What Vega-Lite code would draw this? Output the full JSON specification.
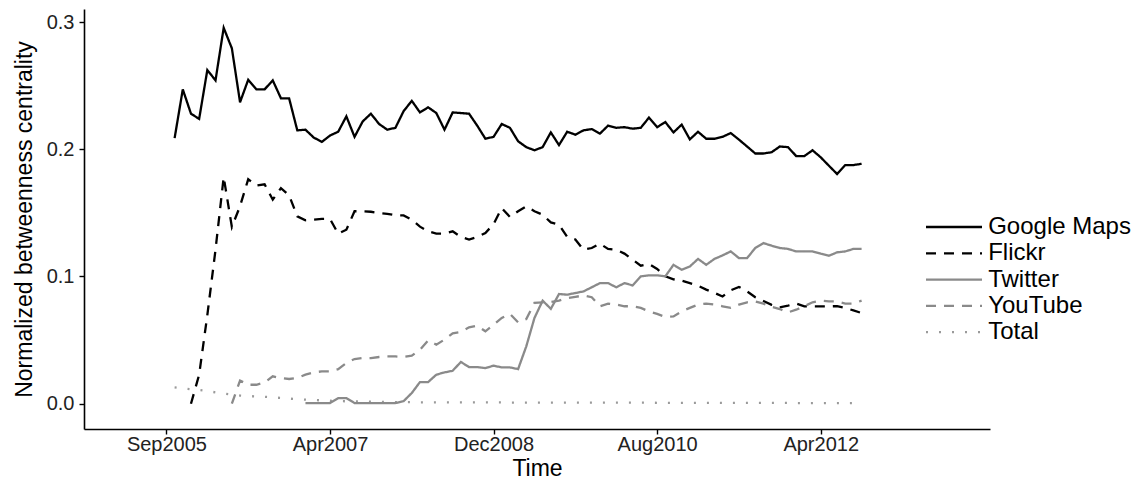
{
  "$schema": "https://vega.github.io/schema/vega-lite/v6.json",
  "width": 906,
  "height": 420,
  "autosize": {"type": "none"},
  "padding": {"left": 84, "top": 9, "right": 147, "bottom": 58},
  "background": "white",
  "data": {"values": [
    {"t":1,"Google Maps":0.2088,"Total":0.0128},
    {"t":2,"Google Maps":0.2471,"Total":0.0120},
    {"t":3,"Google Maps":0.2280,"Flickr":0.0,"Total":0.0113},
    {"t":4,"Google Maps":0.2239,"Flickr":0.0228,"Total":0.0107},
    {"t":5,"Google Maps":0.2623,"Flickr":0.0696,"Total":0.0100},
    {"t":6,"Google Maps":0.2542,"Flickr":0.1210,"Total":0.0089},
    {"t":7,"Google Maps":0.2955,"Flickr":0.1782,"Total":0.0080},
    {"t":8,"Google Maps":0.2794,"Flickr":0.1389,"YouTube":0.0,"Total":0.0072},
    {"t":9,"Google Maps":0.2370,"Flickr":0.1553,"YouTube":0.0182,"Total":0.0064},
    {"t":10,"Google Maps":0.2547,"Flickr":0.1765,"YouTube":0.0149,"Total":0.0060},
    {"t":11,"Google Maps":0.2471,"Flickr":0.1715,"YouTube":0.0149,"Total":0.0057},
    {"t":12,"Google Maps":0.2471,"Flickr":0.1725,"YouTube":0.0167,"Total":0.0054},
    {"t":13,"Google Maps":0.2542,"Flickr":0.1604,"YouTube":0.0215,"Total":0.0050},
    {"t":14,"Google Maps":0.2401,"Flickr":0.1695,"YouTube":0.0202,"Total":0.0045},
    {"t":15,"Google Maps":0.2401,"Flickr":0.1638,"YouTube":0.0194,"Total":0.0040},
    {"t":16,"Google Maps":0.2149,"Flickr":0.1473,"YouTube":0.0202,"Total":0.0035},
    {"t":17,"Google Maps":0.2154,"Flickr":0.1442,"Twitter":0.0005,"YouTube":0.0228,"Total":0.0032},
    {"t":18,"Google Maps":0.2093,"Flickr":0.1447,"Twitter":0.0005,"YouTube":0.0246,"Total":0.0029},
    {"t":19,"Google Maps":0.2058,"Flickr":0.1453,"Twitter":0.0005,"YouTube":0.0254,"Total":0.0026},
    {"t":20,"Google Maps":0.2108,"Flickr":0.1453,"Twitter":0.0005,"YouTube":0.0254,"Total":0.0023},
    {"t":21,"Google Maps":0.2138,"Flickr":0.1337,"Twitter":0.0044,"YouTube":0.0272,"Total":0.0021},
    {"t":22,"Google Maps":0.2259,"Flickr":0.1368,"Twitter":0.0044,"YouTube":0.0320,"Total":0.0019},
    {"t":23,"Google Maps":0.2098,"Flickr":0.1513,"Twitter":0.0005,"YouTube":0.0351,"Total":0.0018},
    {"t":24,"Google Maps":0.2219,"Flickr":0.1513,"Twitter":0.0005,"YouTube":0.0359,"Total":0.0017},
    {"t":25,"Google Maps":0.2280,"Flickr":0.1509,"Twitter":0.0005,"YouTube":0.0359,"Total":0.0016},
    {"t":26,"Google Maps":0.2199,"Flickr":0.1499,"Twitter":0.0005,"YouTube":0.0367,"Total":0.0015},
    {"t":27,"Google Maps":0.2154,"Flickr":0.1493,"Twitter":0.0005,"YouTube":0.0372,"Total":0.0014},
    {"t":28,"Google Maps":0.2169,"Flickr":0.1481,"Twitter":0.0005,"YouTube":0.0372,"Total":0.0013},
    {"t":29,"Google Maps":0.2300,"Flickr":0.1480,"Twitter":0.0020,"YouTube":0.0367,"Total":0.0012},
    {"t":30,"Google Maps":0.2381,"Flickr":0.1447,"Twitter":0.0084,"YouTube":0.0377,"Total":0.0012},
    {"t":31,"Google Maps":0.2290,"Flickr":0.1392,"Twitter":0.0170,"YouTube":0.0424,"Total":0.0011},
    {"t":32,"Google Maps":0.2330,"Flickr":0.1355,"Twitter":0.0170,"YouTube":0.0498,"Total":0.0011},
    {"t":33,"Google Maps":0.2285,"Flickr":0.1337,"Twitter":0.0228,"YouTube":0.0464,"Total":0.0011},
    {"t":34,"Google Maps":0.2154,"Flickr":0.1337,"Twitter":0.0246,"YouTube":0.0504,"Total":0.0011},
    {"t":35,"Google Maps":0.2290,"Flickr":0.1355,"Twitter":0.0259,"YouTube":0.0553,"Total":0.0010},
    {"t":36,"Google Maps":0.2285,"Flickr":0.1311,"Twitter":0.0328,"YouTube":0.0564,"Total":0.0010},
    {"t":37,"Google Maps":0.2280,"Flickr":0.1291,"Twitter":0.0288,"YouTube":0.0600,"Total":0.0010},
    {"t":38,"Google Maps":0.2186,"Flickr":0.1311,"Twitter":0.0288,"YouTube":0.0613,"Total":0.0010},
    {"t":39,"Google Maps":0.2083,"Flickr":0.1342,"Twitter":0.0280,"YouTube":0.0569,"Total":0.0010},
    {"t":40,"Google Maps":0.2098,"Flickr":0.1412,"Twitter":0.0299,"YouTube":0.0621,"Total":0.0010},
    {"t":41,"Google Maps":0.2199,"Flickr":0.1538,"Twitter":0.0285,"YouTube":0.0674,"Total":0.0010},
    {"t":42,"Google Maps":0.2169,"Flickr":0.1468,"Twitter":0.0285,"YouTube":0.0706,"Total":0.0009},
    {"t":43,"Google Maps":0.2063,"Flickr":0.1513,"Twitter":0.0272,"YouTube":0.0640,"Total":0.0009},
    {"t":44,"Google Maps":0.2017,"Flickr":0.1551,"Twitter":0.0451,"YouTube":0.0666,"Total":0.0009},
    {"t":45,"Google Maps":0.1992,"Flickr":0.1513,"Twitter":0.0674,"YouTube":0.0792,"Total":0.0009},
    {"t":46,"Google Maps":0.2017,"Flickr":0.1486,"Twitter":0.0810,"YouTube":0.0797,"Total":0.0009},
    {"t":47,"Google Maps":0.2133,"Flickr":0.1425,"Twitter":0.0746,"YouTube":0.0800,"Total":0.0009},
    {"t":48,"Google Maps":0.2033,"Flickr":0.1407,"Twitter":0.0862,"YouTube":0.0810,"Total":0.0009},
    {"t":49,"Google Maps":0.2138,"Flickr":0.1311,"Twitter":0.0857,"YouTube":0.0830,"Total":0.0009},
    {"t":50,"Google Maps":0.2115,"Flickr":0.1291,"Twitter":0.0870,"YouTube":0.0840,"Total":0.0009},
    {"t":51,"Google Maps":0.2149,"Flickr":0.1210,"Twitter":0.0883,"YouTube":0.0851,"Total":0.0008},
    {"t":52,"Google Maps":0.2159,"Flickr":0.1224,"Twitter":0.0915,"YouTube":0.0837,"Total":0.0008},
    {"t":53,"Google Maps":0.2123,"Flickr":0.1258,"Twitter":0.0948,"YouTube":0.0766,"Total":0.0008},
    {"t":54,"Google Maps":0.2186,"Flickr":0.1217,"Twitter":0.0948,"YouTube":0.0787,"Total":0.0008},
    {"t":55,"Google Maps":0.2169,"Flickr":0.1210,"Twitter":0.0915,"YouTube":0.0779,"Total":0.0008},
    {"t":56,"Google Maps":0.2174,"Flickr":0.1180,"Twitter":0.0948,"YouTube":0.0766,"Total":0.0008},
    {"t":57,"Google Maps":0.2162,"Flickr":0.1132,"Twitter":0.0930,"YouTube":0.0766,"Total":0.0008},
    {"t":58,"Google Maps":0.2169,"Flickr":0.1085,"Twitter":0.1001,"YouTube":0.0753,"Total":0.0008},
    {"t":59,"Google Maps":0.2249,"Flickr":0.1098,"Twitter":0.1009,"YouTube":0.0726,"Total":0.0008},
    {"t":60,"Google Maps":0.2174,"Flickr":0.1059,"Twitter":0.1009,"YouTube":0.0706,"Total":0.0007},
    {"t":61,"Google Maps":0.2214,"Flickr":0.1001,"Twitter":0.1001,"YouTube":0.0682,"Total":0.0007},
    {"t":62,"Google Maps":0.2133,"Flickr":0.0978,"Twitter":0.1092,"YouTube":0.0686,"Total":0.0007},
    {"t":63,"Google Maps":0.2194,"Flickr":0.0967,"Twitter":0.1053,"YouTube":0.0726,"Total":0.0007},
    {"t":64,"Google Maps":0.2078,"Flickr":0.0948,"Twitter":0.1079,"YouTube":0.0753,"Total":0.0007},
    {"t":65,"Google Maps":0.2138,"Flickr":0.0928,"Twitter":0.1138,"YouTube":0.0779,"Total":0.0007},
    {"t":66,"Google Maps":0.2083,"Flickr":0.0897,"Twitter":0.1092,"YouTube":0.0787,"Total":0.0007},
    {"t":67,"Google Maps":0.2083,"Flickr":0.0871,"Twitter":0.1138,"YouTube":0.0779,"Total":0.0007},
    {"t":68,"Google Maps":0.2098,"Flickr":0.0843,"Twitter":0.1166,"YouTube":0.0766,"Total":0.0006},
    {"t":69,"Google Maps":0.2128,"Flickr":0.0891,"Twitter":0.1197,"YouTube":0.0753,"Total":0.0006},
    {"t":70,"Google Maps":0.2076,"Flickr":0.0918,"Twitter":0.1145,"YouTube":0.0779,"Total":0.0006},
    {"t":71,"Google Maps":0.2022,"Flickr":0.0883,"Twitter":0.1145,"YouTube":0.0797,"Total":0.0006},
    {"t":72,"Google Maps":0.1967,"Flickr":0.0837,"Twitter":0.1224,"YouTube":0.0804,"Total":0.0006},
    {"t":73,"Google Maps":0.1967,"Flickr":0.0807,"Twitter":0.1263,"YouTube":0.0787,"Total":0.0006},
    {"t":74,"Google Maps":0.1977,"Flickr":0.0777,"Twitter":0.1242,"YouTube":0.0761,"Total":0.0006},
    {"t":75,"Google Maps":0.2022,"Flickr":0.0757,"Twitter":0.1224,"YouTube":0.0744,"Total":0.0006},
    {"t":76,"Google Maps":0.2017,"Flickr":0.0771,"Twitter":0.1217,"YouTube":0.0718,"Total":0.0006},
    {"t":77,"Google Maps":0.1947,"Flickr":0.0787,"Twitter":0.1197,"YouTube":0.0739,"Total":0.0005},
    {"t":78,"Google Maps":0.1947,"Flickr":0.0765,"Twitter":0.1197,"YouTube":0.0766,"Total":0.0005},
    {"t":79,"Google Maps":0.1992,"Flickr":0.0765,"Twitter":0.1197,"YouTube":0.0797,"Total":0.0005},
    {"t":80,"Google Maps":0.1937,"Flickr":0.0765,"Twitter":0.1179,"YouTube":0.0810,"Total":0.0005},
    {"t":81,"Google Maps":0.1871,"Flickr":0.0765,"Twitter":0.1163,"YouTube":0.0804,"Total":0.0005},
    {"t":82,"Google Maps":0.1806,"Flickr":0.0767,"Twitter":0.1190,"YouTube":0.0804,"Total":0.0005},
    {"t":83,"Google Maps":0.1876,"Flickr":0.0753,"Twitter":0.1197,"YouTube":0.0787,"Total":0.0005},
    {"t":84,"Google Maps":0.1876,"Flickr":0.0733,"Twitter":0.1217,"YouTube":0.0787,"Total":0.0005},
    {"t":85,"Google Maps":0.1886,"Flickr":0.0713,"Twitter":0.1217,"YouTube":0.0810,"Total":0.0005}
  ]},
  "transform": [
    {"fold": ["Google Maps", "Flickr", "Twitter", "YouTube", "Total"], "as": ["series", "value"]},
    {"filter": "isValid(datum.value)"}
  ],
  "mark": {"type": "line", "strokeWidth": 2.3, "clip": true},
  "encoding": {
    "x": {
      "field": "t", "type": "quantitative",
      "scale": {"domain": [-10.08, 100.7], "nice": false, "zero": false},
      "axis": {
        "title": "Time",
        "values": [0, 20, 40, 60, 80],
        "labelExpr": "datum.value == 0 ? 'Sep2005' : datum.value == 20 ? 'Apr2007' : datum.value == 40 ? 'Dec2008' : datum.value == 60 ? 'Aug2010' : 'Apr2012'",
        "labelFlush": false,
        "labelPadding": 0,
        "titlePadding": 3
      }
    },
    "y": {
      "field": "value", "type": "quantitative",
      "scale": {"domain": [-0.0199, 0.3103], "nice": false, "zero": false},
      "axis": {
        "title": "Normalized betweenness centrality",
        "values": [0, 0.1, 0.2, 0.3],
        "format": ".1f",
        "labelFlush": false,
        "labelPadding": 5,
        "titlePadding": 10
      }
    },
    "color": {
      "field": "series", "type": "nominal",
      "scale": {"domain": ["Google Maps", "Flickr", "Twitter", "YouTube", "Total"], "range": ["#000000", "#000000", "#8a8a8a", "#8a8a8a", "#9a9a9a"]},
      "legend": {
        "orient": "none", "legendX": 858, "legendY": 206,
        "title": null, "padding": 0,
        "symbolType": "M-3.5,0H3.5", "symbolSize": 256, "symbolStrokeWidth": 2.3,
        "labelFont": "Liberation Sans", "labelFontSize": 24, "labelColor": "#000000",
        "labelOffset": 22.2, "rowPadding": 2.3
      }
    },
    "strokeDash": {
      "field": "series", "type": "nominal",
      "scale": {"domain": ["Google Maps", "Flickr", "Twitter", "YouTube", "Total"], "range": [[1, 0], [10, 8], [1, 0], [10, 8], [2, 11]]}
    }
  },
  "config": {
    "view": {"stroke": null},
    "axis": {
      "grid": false,
      "domainColor": "#000000", "domainWidth": 1.6,
      "tickColor": "#000000", "tickWidth": 1.4, "tickSize": 5,
      "labelFont": "Liberation Sans", "labelFontSize": 20, "labelColor": "#222222",
      "titleFont": "Liberation Sans", "titleFontSize": 23, "titleFontWeight": "normal", "titleColor": "#000000"
    }
  }
}
